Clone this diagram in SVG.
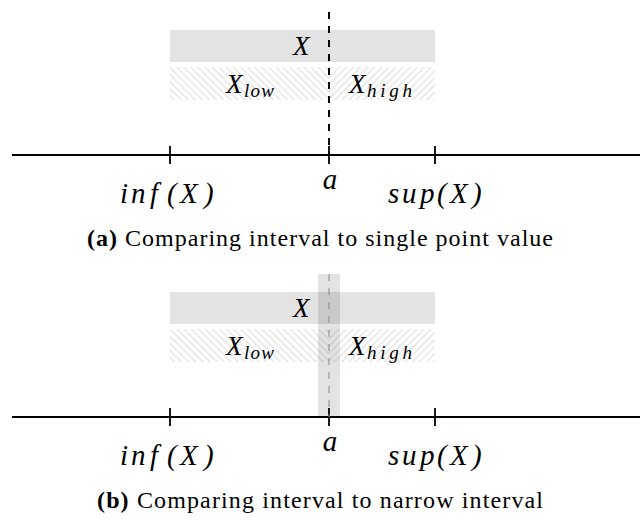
<svg xmlns="http://www.w3.org/2000/svg" width="640" height="526" viewBox="0 0 640 526">
<defs>
<pattern id="hatchL" patternUnits="userSpaceOnUse" width="5" height="5" patternTransform="rotate(-45)">
<line x1="2.5" y1="0" x2="2.5" y2="5" stroke="#e4e4e4" stroke-width="1.5"/>
</pattern>
<pattern id="hatchR" patternUnits="userSpaceOnUse" width="5" height="5" patternTransform="rotate(45)">
<line x1="2.5" y1="0" x2="2.5" y2="5" stroke="#e4e4e4" stroke-width="1.5"/>
</pattern>
</defs>
<style>
.m{font-style:italic}
.x{font-size:27px}
.lab{font-size:29px}
.sub{font-size:19px}
.cap{font-size:24px}
.axis{stroke:#000;stroke-width:2;fill:none}
.tick{stroke:#000;stroke-width:1.8;fill:none}
.xr{fill:#000;fill-opacity:0.11}
</style>
<g font-family="Liberation Serif, Times New Roman, serif" fill="#000">
<g id="panel-a">
<g id="a-X">
<rect class="xr" x="170" y="30" width="265" height="32"/>
<text class="m x" x="293" y="55">X</text>
</g>
<g id="a-Xlow">
<rect x="170" y="67" width="159" height="33" fill="url(#hatchL)"/>
<text class="m x" x="226" y="93">X</text>
<text class="m sub" x="244" y="97" textLength="30">low</text>
</g>
<g id="a-Xhigh">
<rect x="329" y="67" width="106" height="33" fill="url(#hatchR)"/>
<text class="m x" x="349" y="93">X</text>
<text class="m sub" x="367" y="97" textLength="45">high</text>
</g>
<g id="a-axis">
<line class="axis" x1="12" y1="155" x2="640" y2="155"/>
<line class="tick" x1="170" y1="146" x2="170" y2="164"/>
<line class="tick" x1="329" y1="146" x2="329" y2="164"/>
<line class="tick" x1="435" y1="146" x2="435" y2="164"/>
<text class="m lab" x="120 131 150 167 180 204" y="203">inf(X)</text>
<text class="m lab" x="330" y="189" text-anchor="middle">a</text>
<text class="m lab" x="388 402 420 437 450 472" y="203">sup(X)</text>
</g>
<g id="connectors-a">
<line x1="329" y1="12" x2="329" y2="155" stroke="#000" stroke-width="2" stroke-dasharray="7 7"/>
</g>
<text class="cap" x="320" y="246" text-anchor="middle" textLength="466"><tspan font-weight="bold">(a)</tspan> Comparing interval to single point value</text>
</g>

<g id="panel-b">
<g id="b-X">
<rect class="xr" x="170" y="292" width="265" height="32"/>
<text class="m x" x="293" y="317">X</text>
</g>
<g id="b-Xlow">
<rect x="170" y="329" width="159" height="33" fill="url(#hatchL)"/>
<text class="m x" x="226" y="355">X</text>
<text class="m sub" x="244" y="359" textLength="30">low</text>
</g>
<g id="b-Xhigh">
<rect x="329" y="329" width="106" height="33" fill="url(#hatchR)"/>
<text class="m x" x="349" y="355">X</text>
<text class="m sub" x="367" y="359" textLength="45">high</text>
</g>
<g id="b-band">
<rect class="xr" x="318" y="274" width="22" height="143"/>
</g>
<g id="b-axis">
<line class="axis" x1="12" y1="417" x2="640" y2="417"/>
<line class="tick" x1="170" y1="408" x2="170" y2="426"/>
<line class="tick" x1="329" y1="408" x2="329" y2="426"/>
<line class="tick" x1="435" y1="408" x2="435" y2="426"/>
<text class="m lab" x="120 131 150 167 180 204" y="465">inf(X)</text>
<text class="m lab" x="330" y="451" text-anchor="middle">a</text>
<text class="m lab" x="388 402 420 437 450 472" y="465">sup(X)</text>
</g>
<g id="connectors-b">
<line x1="329" y1="274" x2="329" y2="417" stroke="#888" stroke-width="1" stroke-dasharray="7 7"/>
</g>
<text class="cap" x="320" y="508" text-anchor="middle" textLength="446"><tspan font-weight="bold">(b)</tspan> Comparing interval to narrow interval</text>
</g>
</g>
</svg>
